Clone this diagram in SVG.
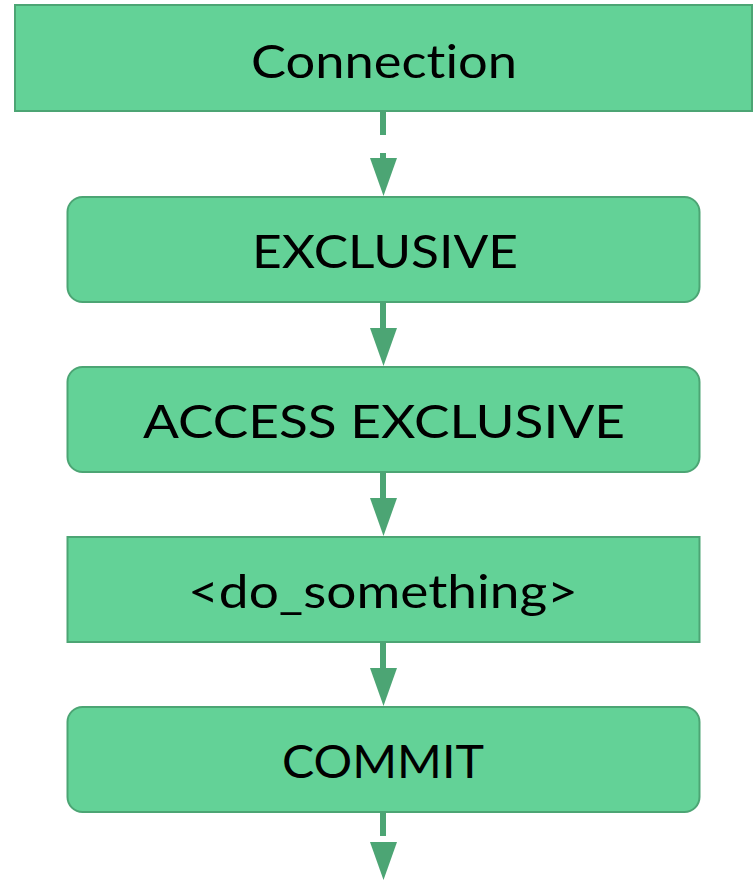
<svg xmlns="http://www.w3.org/2000/svg" width="753" height="881" viewBox="0 0 753 881">
<style>
.box{fill:#63d297;stroke:#4ca574;stroke-width:2}
.lbl{font-family:Lato,"Liberation Sans",sans-serif;font-size:47px;fill:#000;text-anchor:middle;font-variant-ligatures:none;font-feature-settings:"liga" 0}
.ln{stroke:#4ca574;stroke-width:6;fill:none}
.ah{fill:#4ca574}
</style>
<rect width="753" height="881" fill="#fff"/>
<g id="connection"><rect class="box" x="15" y="5" width="737" height="106"/><text class="lbl" x="384" y="78" textLength="266" lengthAdjust="spacingAndGlyphs">Connection</text></g>
<g id="exclusive"><rect class="box" x="67.5" y="197" width="632" height="105" rx="15"/><text class="lbl" x="385" y="268" textLength="266" lengthAdjust="spacingAndGlyphs">EXCLUSIVE</text></g>
<g id="access-exclusive"><rect class="box" x="67.5" y="367" width="632" height="105" rx="15"/><text class="lbl" x="384" y="438" textLength="482" lengthAdjust="spacingAndGlyphs">ACCESS EXCLUSIVE</text></g>
<g id="do-something"><rect class="box" x="67.5" y="537" width="632" height="105"/><text class="lbl" x="383" y="608" textLength="390" lengthAdjust="spacingAndGlyphs">&lt;do_something&gt;</text></g>
<g id="commit"><rect class="box" x="67.5" y="707" width="632" height="105" rx="15"/><text class="lbl" x="383" y="778" textLength="202" lengthAdjust="spacingAndGlyphs">COMMIT</text></g>
<g id="connectors">
<line class="ln" x1="383" y1="111" x2="383" y2="135"/><line class="ln" x1="383" y1="153" x2="383" y2="160"/><polygon class="ah" points="370,158 397,158 383.5,196"/>
<line class="ln" x1="383" y1="302" x2="383" y2="330"/><polygon class="ah" points="370,328 397,328 383.5,366"/>
<line class="ln" x1="383" y1="472" x2="383" y2="500"/><polygon class="ah" points="370,498 397,498 383.5,536"/>
<line class="ln" x1="383" y1="642" x2="383" y2="670"/><polygon class="ah" points="370,668 397,668 383.5,706"/>
<line class="ln" x1="383" y1="812" x2="383" y2="836"/><polygon class="ah" points="370,842 397,842 383.5,880"/>
</g>
</svg>
